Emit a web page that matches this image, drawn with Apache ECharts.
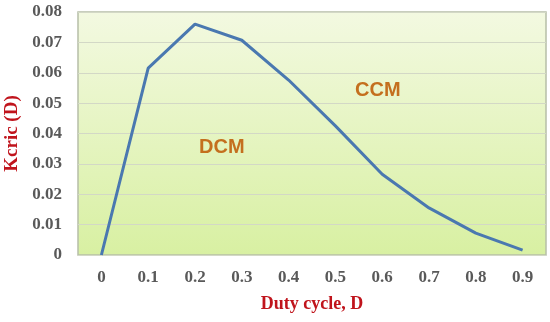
<!DOCTYPE html>
<html>
<head>
<meta charset="utf-8">
<title>Kcric vs duty cycle</title>
<script src="https://cdn.jsdelivr.net/npm/echarts@6/dist/echarts.min.js"></script>
<style>
  html, body { margin: 0; padding: 0; background: #fff; }
  #main { width: 550px; height: 322px; }
</style>
</head>
<body>
<div id="main"></div>
<script>
const dutyCycle = ['0', '0.1', '0.2', '0.3', '0.4', '0.5', '0.6', '0.7', '0.8', '0.9']
const kcric = [0, 0.0615, 0.076, 0.0707, 0.0576, 0.0425, 0.0266, 0.0155, 0.0072, 0.0016]
const regionLabels = ['DCM', 'CCM']

const chart = echarts.init(document.getElementById('main'))
const serif = '"Liberation Serif", "DejaVu Serif", serif'

chart.setOption({
  animation: false,
  grid: {
    left: 78, right: 4, top: 12, bottom: 67,
    outerBoundsMode: 'none',
    containLabel: false,
    show: true,
    borderColor: '#b7bfa8',
    borderWidth: 1.5,
    backgroundColor: {
      type: 'linear', x: 0, y: 0, x2: 0, y2: 1,
      colorStops: [
        { offset: 0, color: '#f3f9e1' },
        { offset: 1, color: '#d8f0a2' }
      ]
    }
  },
  xAxis: {
    type: 'category',
    data: dutyCycle,
    name: 'Duty cycle, D',
    nameLocation: 'middle',
    nameGap: 40,
    nameTextStyle: { color: '#c0141c', fontFamily: serif, fontWeight: 'bold', fontSize: 18 },
    axisLine: { show: false },
    axisTick: { show: false },
    axisLabel: { color: '#595959', fontFamily: serif, fontWeight: 'bold', fontSize: 17, margin: 14 }
  },
  yAxis: {
    type: 'value',
    min: 0, max: 0.08, interval: 0.01,
    name: 'Kcric (D)',
    nameLocation: 'middle',
    nameGap: 54,
    nameTextStyle: { color: '#c0141c', fontFamily: serif, fontWeight: 'bold', fontSize: 19 },
    axisLine: { show: false },
    axisTick: { show: false },
    axisLabel: {
      color: '#595959', fontFamily: serif, fontWeight: 'bold', fontSize: 17, margin: 16,
      formatter: v => v === 0 ? '0' : v.toFixed(2)
    },
    splitLine: { lineStyle: { color: '#d3d8c6', width: 1.2 } }
  },
  series: [{
    type: 'line',
    data: kcric,
    symbol: 'none',
    lineStyle: { color: '#4a78b0', width: 3 }
  }],
  graphic: [
    { type: 'text', left: 199, top: 137, style: { text: regionLabels[0], fill: '#c46f1e', font: 'bold 20px "Liberation Sans", Arial, sans-serif' } },
    { type: 'text', left: 355, top: 80, style: { text: regionLabels[1], fill: '#c46f1e', font: 'bold 20px "Liberation Sans", Arial, sans-serif' } }
  ]
})
</script>
</body>
</html>
